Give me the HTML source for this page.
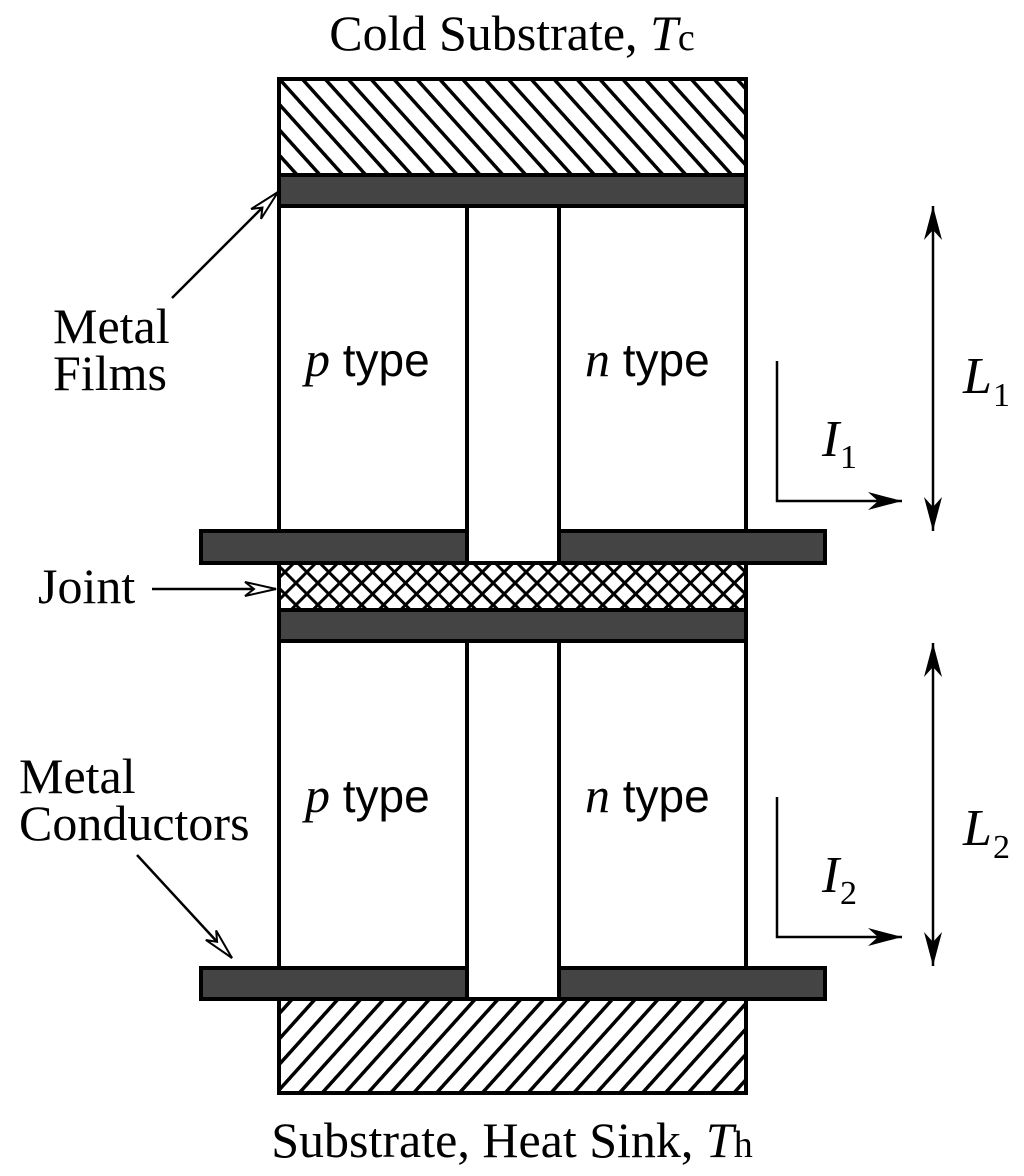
<!DOCTYPE html>
<html><head><meta charset="utf-8"><style>
html,body{margin:0;padding:0;background:#fff;}
svg{display:block;}
.s{font-family:"Liberation Serif",serif;}
.a{font-family:"Liberation Sans",sans-serif;}
</style></head><body>
<svg width="1024" height="1176" viewBox="0 0 1024 1176" xmlns="http://www.w3.org/2000/svg">
<defs>
<pattern id="h1" patternUnits="userSpaceOnUse" width="17" height="17" patternTransform="rotate(-42)">
<rect width="17" height="17" fill="#fff"/><line x1="0" y1="0" x2="0" y2="17" stroke="#000" stroke-width="7"/>
</pattern>
<pattern id="h2" patternUnits="userSpaceOnUse" width="17" height="17" patternTransform="rotate(42)">
<rect width="17" height="17" fill="#fff"/><line x1="0" y1="0" x2="0" y2="17" stroke="#000" stroke-width="7"/>
</pattern>
<pattern id="x" patternUnits="userSpaceOnUse" width="15.5" height="15.5" patternTransform="rotate(45)">
<rect width="16" height="16" fill="#fff"/><line x1="0" y1="0" x2="0" y2="16" stroke="#000" stroke-width="6"/><line x1="0" y1="0" x2="16" y2="0" stroke="#000" stroke-width="6"/>
</pattern>
<marker id="f" markerWidth="36" markerHeight="20" refX="34" refY="10" orient="auto" markerUnits="userSpaceOnUse">
<path d="M0,1 L34,10 L0,19 L10,10 Z" fill="#000"/>
</marker>
<marker id="o" markerWidth="36" markerHeight="20" refX="33" refY="10" orient="auto" markerUnits="userSpaceOnUse">
<path d="M2,3 L33,10 L2,17 L11,10 Z" fill="#fff" stroke="#000" stroke-width="2"/>
</marker>
</defs>
<g stroke="#000" stroke-width="4">
<rect x="279" y="79" width="467" height="96" fill="url(#h1)"/>
<rect x="279" y="175" width="467" height="31" fill="#444"/>
<rect x="279" y="206" width="188" height="325" fill="#fff"/>
<rect x="467" y="206" width="92" height="357" fill="#fff"/>
<rect x="559" y="206" width="187" height="325" fill="#fff"/>
<rect x="201" y="531" width="266" height="32" fill="#444"/>
<rect x="559" y="531" width="266" height="32" fill="#444"/>
<rect x="279" y="563" width="467" height="47" fill="url(#x)"/>
<rect x="279" y="610" width="467" height="31" fill="#444"/>
<rect x="279" y="641" width="188" height="327" fill="#fff"/>
<rect x="467" y="641" width="92" height="358" fill="#fff"/>
<rect x="559" y="641" width="187" height="327" fill="#fff"/>
<rect x="201" y="968" width="266" height="31" fill="#444"/>
<rect x="559" y="968" width="266" height="31" fill="#444"/>
<rect x="279" y="999" width="467" height="94" fill="url(#h2)"/>
</g>
<g stroke="#000" stroke-width="2.5" fill="none">
<line x1="172" y1="298" x2="278" y2="192" marker-end="url(#o)"/>
<line x1="152" y1="589" x2="276" y2="589" marker-end="url(#o)"/>
<line x1="137" y1="855" x2="232" y2="958" marker-end="url(#o)"/>
<polyline points="777,361 777,501 902,501" marker-end="url(#f)"/>
<polyline points="777,797 777,937 902,937" marker-end="url(#f)"/>
<line x1="933" y1="300" x2="933" y2="206" marker-end="url(#f)"/>
<line x1="933" y1="300" x2="933" y2="531" marker-end="url(#f)"/>
<line x1="933" y1="760" x2="933" y2="643" marker-end="url(#f)"/>
<line x1="933" y1="760" x2="933" y2="966" marker-end="url(#f)"/>
</g>
<g fill="#000" font-size="50">
<text class="s" x="512" y="50" text-anchor="middle">Cold Substrate, <tspan font-style="italic">T</tspan><tspan font-size="38">c</tspan></text>
<text class="s" x="512" y="1157" text-anchor="middle">Substrate, Heat Sink, <tspan font-style="italic">T</tspan><tspan font-size="38">h</tspan></text>
<text class="s" x="53" y="343">Metal</text>
<text class="s" x="53" y="390">Films</text>
<text class="s" x="38" y="603">Joint</text>
<text class="s" x="19" y="793">Metal</text>
<text class="s" x="19" y="840">Conductors</text>
<text x="305" y="376"><tspan class="s" font-style="italic">p</tspan><tspan class="a" font-size="46">  type</tspan></text>
<text x="585" y="376"><tspan class="s" font-style="italic">n</tspan><tspan class="a" font-size="46">  type</tspan></text>
<text x="305" y="812"><tspan class="s" font-style="italic">p</tspan><tspan class="a" font-size="46">  type</tspan></text>
<text x="585" y="812"><tspan class="s" font-style="italic">n</tspan><tspan class="a" font-size="46">  type</tspan></text>
<text class="s" x="822" y="456" font-style="italic" font-size="52">I</text><text class="s" x="840" y="468" font-size="34">1</text>
<text class="s" x="822" y="892" font-style="italic" font-size="52">I</text><text class="s" x="840" y="904" font-size="34">2</text>
<text class="s" x="963" y="393" font-style="italic" font-size="52">L</text><text class="s" x="993" y="406" font-size="34">1</text>
<text class="s" x="963" y="845" font-style="italic" font-size="52">L</text><text class="s" x="993" y="858" font-size="34">2</text>
</g>
</svg>
</body></html>
